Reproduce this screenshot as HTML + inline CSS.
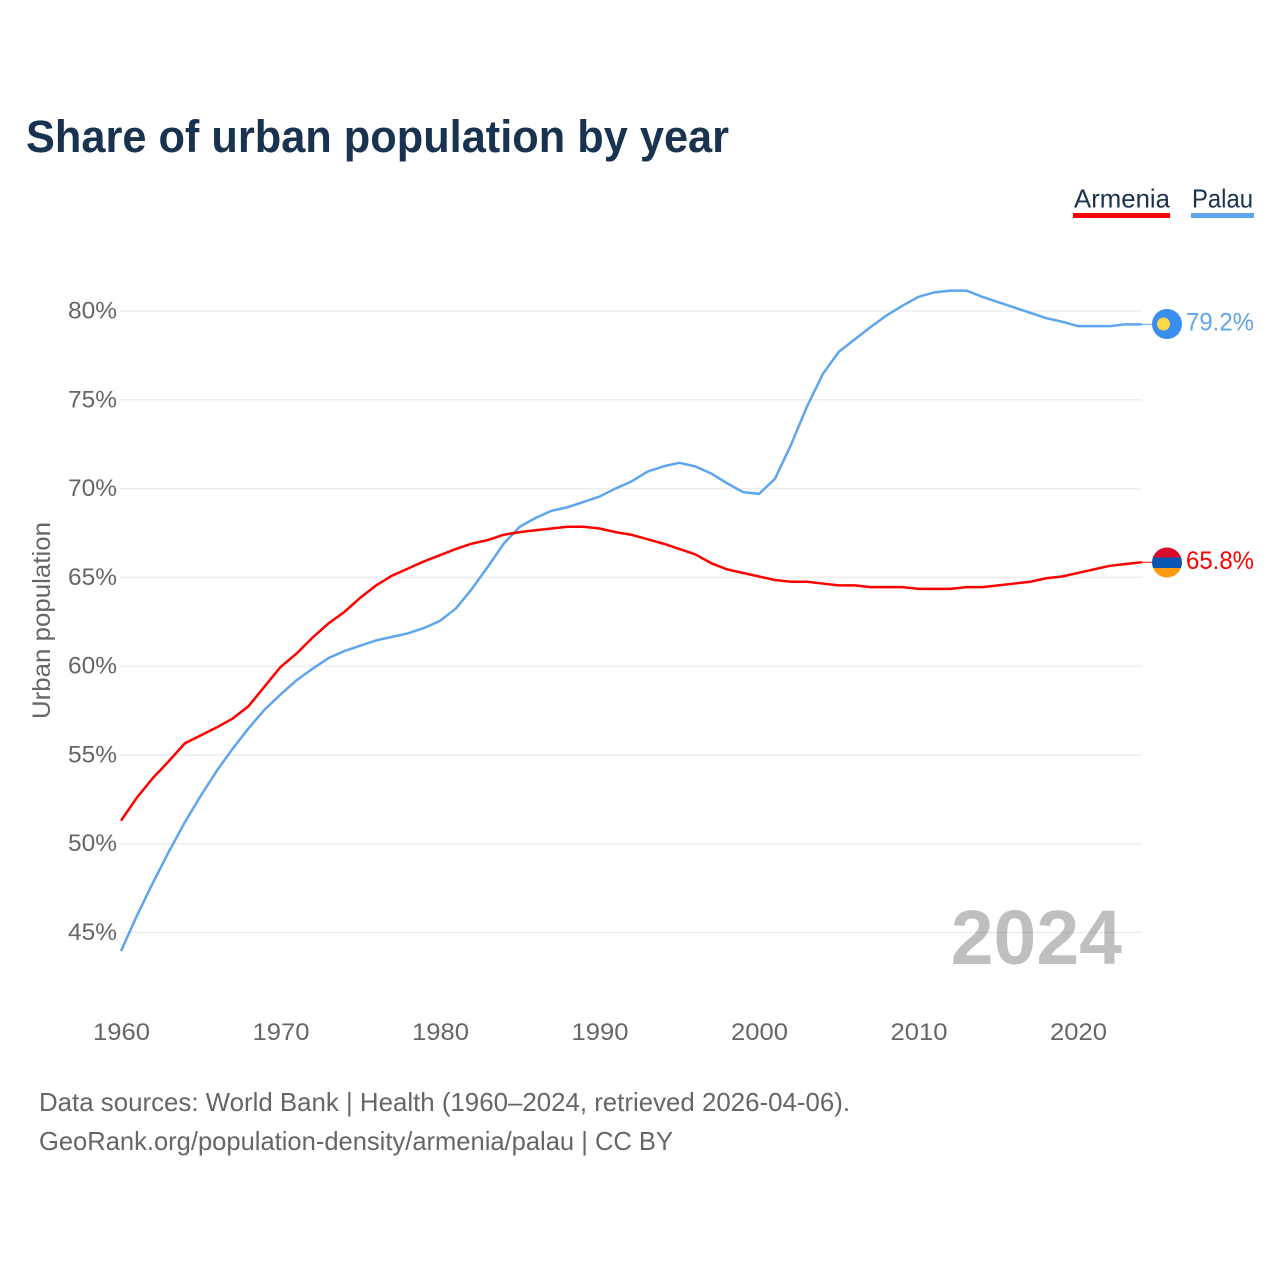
<!DOCTYPE html>
<html lang="en">
<head>
<meta charset="utf-8">
<title>Share of urban population by year</title>
<style>
html,body{margin:0;padding:0;background:#fff;width:1280px;height:1280px;overflow:hidden}
svg{display:block;font-family:"Liberation Sans",sans-serif}
</style>
</head>
<body>
<svg id="chart" width="1280" height="1280" viewBox="0 0 1280 1280" xmlns="http://www.w3.org/2000/svg">
  <rect width="1280" height="1280" fill="#fff"/>
  <text x="26" y="152" font-size="45" font-weight="700" fill="#18324f" textLength="703" lengthAdjust="spacingAndGlyphs">Share of urban population by year</text>
  <g>
    <text x="1074" y="207.5" font-size="26" fill="#18324f" textLength="96" lengthAdjust="spacingAndGlyphs">Armenia</text>
    <rect x="1073" y="213" width="97" height="5" fill="#ff0000"/>
    <text x="1192" y="207.5" font-size="26" fill="#18324f" textLength="61" lengthAdjust="spacingAndGlyphs">Palau</text>
    <rect x="1191" y="213" width="63" height="5" fill="#5fa5ee"/>
  </g>
  <g id="grid"></g>
  <g id="yticks"></g>
  <g id="xticks"></g>
  <text transform="translate(50,719) rotate(-90)" font-size="25" fill="#666" textLength="197" lengthAdjust="spacingAndGlyphs">Urban population</text>
  <text x="1122" y="964" text-anchor="end" font-size="77" font-weight="700" fill="#000" fill-opacity="0.25">2024</text>
  <g id="series"></g>
  <g>
    <circle cx="1167" cy="324" r="15" fill="#3a8ef0"/>
    <circle cx="1163.5" cy="324" r="6.5" fill="#ffd54a"/>
  </g>
  <g>
    <clipPath id="armenia-clip"><circle cx="1167" cy="562.5" r="15"/></clipPath>
    <g clip-path="url(#armenia-clip)">
      <rect x="1150" y="547" width="34" height="10.5" fill="#d90a2c"/>
      <rect x="1150" y="557.5" width="34" height="10.5" fill="#0a55b4"/>
      <rect x="1150" y="568" width="34" height="10.5" fill="#ff9a10"/>
    </g>
  </g>
  <text x="1186" y="330.5" font-size="25" fill="#5fa5ee" textLength="68" lengthAdjust="spacingAndGlyphs">79.2%</text>
  <text x="1186" y="569" font-size="25" fill="#ff0000" textLength="68" lengthAdjust="spacingAndGlyphs">65.8%</text>
  <text x="39" y="1111" font-size="26" fill="#666" textLength="811" lengthAdjust="spacingAndGlyphs">Data sources: World Bank | Health (1960–2024, retrieved 2026-04-06).</text>
  <text x="39" y="1150" font-size="26" fill="#666" textLength="634" lengthAdjust="spacingAndGlyphs">GeoRank.org/population-density/armenia/palau | CC BY</text>
</svg>
<script>
const startYear = 1960;
const armeniaValues = [51.3,52.6,53.7,54.65,55.65,56.1,56.55,57.05,57.75,58.85,59.95,60.7,61.6,62.4,63.05,63.85,64.55,65.1,65.5,65.9,66.25,66.6,66.9,67.1,67.4,67.55,67.65,67.75,67.85,67.85,67.75,67.55,67.4,67.15,66.9,66.6,66.3,65.8,65.45,65.25,65.05,64.85,64.75,64.75,64.65,64.55,64.55,64.45,64.45,64.45,64.35,64.35,64.35,64.45,64.45,64.55,64.65,64.75,64.95,65.05,65.25,65.45,65.65,65.75,65.85];
const palauValues = [43.96,45.95,47.8,49.55,51.2,52.7,54.1,55.35,56.5,57.55,58.4,59.2,59.85,60.45,60.85,61.15,61.45,61.65,61.85,62.15,62.55,63.25,64.35,65.6,66.9,67.85,68.35,68.75,68.95,69.25,69.55,70.0,70.4,70.95,71.25,71.45,71.25,70.85,70.3,69.8,69.7,70.55,72.45,74.6,76.45,77.7,78.4,79.1,79.75,80.3,80.8,81.05,81.15,81.15,80.8,80.5,80.2,79.9,79.6,79.4,79.15,79.15,79.15,79.25,79.25];
const yTickValues = [45,50,55,60,65,70,75,80];
const xTickValues = [1960,1970,1980,1990,2000,2010,2020];

const NS = 'http://www.w3.org/2000/svg';
const xScale = year => 121 + (year - 1960) * 15.95;
const yScale = value => 932.5 - (value - 45) * 17.757;

function make(tag, attrs, parent, text) {
  const el = document.createElementNS(NS, tag);
  for (const k in attrs) el.setAttribute(k, attrs[k]);
  if (text !== undefined) el.textContent = text;
  parent.appendChild(el);
  return el;
}

const gridGroup = document.getElementById('grid');
const yGroup = document.getElementById('yticks');
const xGroup = document.getElementById('xticks');
const seriesGroup = document.getElementById('series');

yTickValues.forEach(v => {
  const line = make('line', {x1: 120, x2: 1142, y1: yScale(v), y2: yScale(v), stroke: '#eeeeee', 'stroke-width': 1.5}, gridGroup);
  
  
  const label = make('text', {x: 117, y: yScale(v) + 7.5, 'text-anchor': 'end', 'font-size': 24, fill: '#666', textLength: 49, lengthAdjust: 'spacingAndGlyphs'}, yGroup, v + '%');
  
  
});

xTickValues.forEach(y => {
  const label = make('text', {x: xScale(y) + 0.5, y: 1040, 'text-anchor': 'middle', 'font-size': 24, fill: '#666', textLength: 57, lengthAdjust: 'spacingAndGlyphs'}, xGroup, String(y));
  
  
});

function drawSeries(values, color, name) {
  const pts = values.map((v, i) => xScale(startYear + i).toFixed(2) + ',' + yScale(v).toFixed(2)).join(' ');
  const line = make('polyline', {points: pts, fill: 'none', stroke: color, 'stroke-width': 2.5, 'stroke-linejoin': 'round'}, seriesGroup);
  
  
  const lastY = yScale(values[values.length - 1]);
  const lastX = xScale(startYear + values.length - 1);
  const lead = make('line', {x1: lastX, x2: 1153, y1: lastY, y2: lastY, stroke: color, 'stroke-width': 1}, seriesGroup);
  
  
}
drawSeries(palauValues, '#5fa5ee', 'line-palau');
drawSeries(armeniaValues, '#ff0000', 'line-armenia');
</script>
</body>
</html>
